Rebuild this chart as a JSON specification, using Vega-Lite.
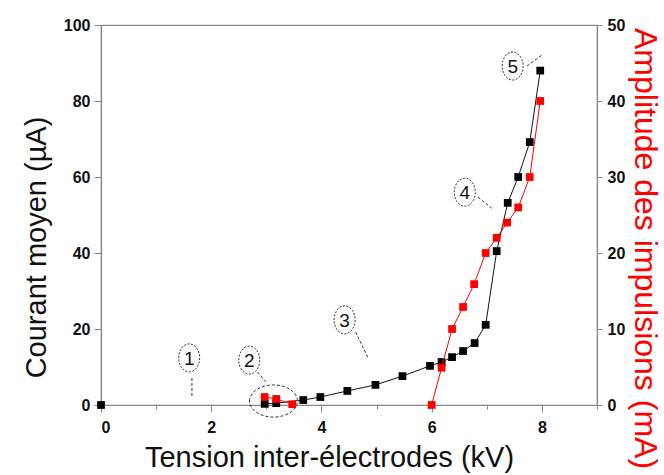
{
  "$schema": "https://vega.github.io/schema/vega-lite/v6.json",
  "width": 496,
  "height": 380,
  "autosize": {"type": "none"},
  "padding": {"left": 101, "top": 25, "right": 67, "bottom": 70},
  "background": "white",
  "config": {
    "font": "Liberation Sans",
    "view": {"stroke": "#888", "strokeWidth": 1.2},
    "axis": {
      "grid": false,
      "domainColor": "#888",
      "domainWidth": 1.2,
      "tickColor": "#888",
      "labelFont": "Liberation Sans",
      "labelFontSize": 16,
      "labelFontWeight": "bold",
      "labelColor": "#111",
      "titleFont": "Liberation Sans",
      "titleFontWeight": "normal",
      "titleFontSize": 29,
      "titleColor": "#111"
    },
    "axisRight": {"titleColor": "#ff0000", "titleFontSize": 32}
  },
  "datasets": {
    "courant": [
      {"v": 0, "I": 0, "groupe": "a"},
      {"v": 2.97, "I": 0.3, "groupe": "b"},
      {"v": 3.18, "I": 0.5, "groupe": "b"},
      {"v": 3.67, "I": 1.3, "groupe": "b"},
      {"v": 3.98, "I": 2.1, "groupe": "b"},
      {"v": 4.47, "I": 3.7, "groupe": "b"},
      {"v": 4.98, "I": 5.3, "groupe": "b"},
      {"v": 5.47, "I": 7.6, "groupe": "b"},
      {"v": 5.97, "I": 10.3, "groupe": "b"},
      {"v": 6.18, "I": 11.3, "groupe": "b"},
      {"v": 6.37, "I": 12.6, "groupe": "b"},
      {"v": 6.57, "I": 14.2, "groupe": "b"},
      {"v": 6.78, "I": 16.3, "groupe": "b"},
      {"v": 6.98, "I": 21.1, "groupe": "b"},
      {"v": 7.18, "I": 40.5, "groupe": "b"},
      {"v": 7.38, "I": 53.2, "groupe": "b"},
      {"v": 7.57, "I": 60, "groupe": "b"},
      {"v": 7.78, "I": 69.2, "groupe": "b"},
      {"v": 7.97, "I": 88, "groupe": "b"}
    ],
    "amplitude": [
      {"v": 2.97, "A": 1.05, "groupe": "a"},
      {"v": 3.18, "A": 0.8, "groupe": "a"},
      {"v": 3.47, "A": 0.1, "groupe": "a"},
      {"v": 6.0, "A": 0, "groupe": "b"},
      {"v": 6.18, "A": 4.9, "groupe": "b"},
      {"v": 6.37, "A": 10, "groupe": "b"},
      {"v": 6.57, "A": 12.9, "groupe": "b"},
      {"v": 6.77, "A": 15.9, "groupe": "b"},
      {"v": 6.98, "A": 20, "groupe": "b"},
      {"v": 7.18, "A": 22, "groupe": "b"},
      {"v": 7.37, "A": 24, "groupe": "b"},
      {"v": 7.57, "A": 26, "groupe": "b"},
      {"v": 7.78, "A": 30, "groupe": "b"},
      {"v": 7.97, "A": 40, "groupe": "b"}
    ],
    "etiquettes": [
      {"v": 1.6, "I": 12.4, "n": "1"},
      {"v": 2.69, "I": 11.8, "n": "2"},
      {"v": 4.42, "I": 22.4, "n": "3"},
      {"v": 6.6, "I": 56, "n": "4"},
      {"v": 7.47, "I": 89.2, "n": "5"}
    ],
    "fleches": [
      {"v": 1.65, "I": 7.1, "v2": 1.65, "I2": 1.8},
      {"v": 2.84, "I": 8.7, "v2": 3.0, "I2": 6},
      {"v": 4.62, "I": 19.2, "v2": 4.84, "I2": 12.6},
      {"v": 6.84, "I": 54.7, "v2": 7.09, "I2": 51.8},
      {"v": 7.73, "I": 89.2, "v2": 8.0, "I2": 92.1}
    ],
    "zone": [{"v": 3.13, "I": 1.05}]
  },
  "resolve": {"scale": {"y": "independent"}},
  "layer": [
    {
      "layer": [
        {
          "mark": {"type": "rule", "color": "#777", "strokeDash": [5, 3], "strokeWidth": 1},
          "encoding": {
            "x": {"datum": 6, "type": "quantitative", "scale": {"domain": [0, 9]}, "title": "Tension inter-électrodes (kV)"}
          }
        },
        {
          "data": {"name": "courant"},
          "mark": {"type": "line", "color": "#111", "strokeWidth": 1},
          "encoding": {
            "x": {"field": "v", "type": "quantitative", "scale": {"domain": [0, 9]}, "title": "Tension inter-électrodes (kV)",
              "axis": {"values": [0, 1, 2, 3, 4, 5, 6, 7, 8, 9], "format": "d", "labelExpr": "datum.value % 2 === 0 && datum.value < 9 ? datum.label : ''", "tickSize": {"condition": {"test": "datum.value % 2 !== 0", "value": 4}, "value": 7}, "labelPadding": 7, "titlePadding": 8, "titleX": 228}},
            "y": {"field": "I", "type": "quantitative", "scale": {"domain": [0, 100]}, "title": "Courant moyen (µA)",
              "axis": {"values": [0, 10, 20, 30, 40, 50, 60, 70, 80, 90, 100], "labelExpr": "datum.value % 20 === 0 ? datum.label : ''", "tickSize": {"condition": {"test": "datum.value % 20 !== 0", "value": 4}, "value": 7}, "labelPadding": 4, "titlePadding": 12, "titleY": 222}},
            "detail": {"field": "groupe"}
          }
        },
        {
          "data": {"name": "courant"},
          "mark": {"type": "point", "shape": "square", "filled": true, "color": "#000", "size": 60, "opacity": 1},
          "encoding": {
            "x": {"field": "v", "type": "quantitative", "title": "Tension inter-électrodes (kV)"},
            "y": {"field": "I", "type": "quantitative", "title": "Courant moyen (µA)"}
          }
        },
        {
          "data": {"name": "fleches"},
          "mark": {"type": "rule", "color": "#333", "strokeWidth": 1, "strokeDash": [3, 2]},
          "encoding": {
            "x": {"field": "v", "type": "quantitative", "title": "Tension inter-électrodes (kV)"},
            "y": {"field": "I", "type": "quantitative", "title": "Courant moyen (µA)"},
            "x2": {"field": "v2"},
            "y2": {"field": "I2"}
          }
        },
        {
          "data": {"name": "etiquettes"},
          "mark": {"type": "point", "shape": "M -0.75 0 A 0.75 1 0 1 1 0.75 0 A 0.75 1 0 1 1 -0.75 0 Z", "filled": false, "color": "#333", "size": 784, "strokeWidth": 1, "strokeDash": [2, 1.5], "opacity": 1},
          "encoding": {
            "x": {"field": "v", "type": "quantitative", "title": "Tension inter-électrodes (kV)"},
            "y": {"field": "I", "type": "quantitative", "title": "Courant moyen (µA)"}
          }
        },
        {
          "data": {"name": "etiquettes"},
          "mark": {"type": "text", "font": "Liberation Sans", "fontSize": 19, "color": "#111", "baseline": "middle", "align": "center", "dy": 1},
          "encoding": {
            "x": {"field": "v", "type": "quantitative", "title": "Tension inter-électrodes (kV)"},
            "y": {"field": "I", "type": "quantitative", "title": "Courant moyen (µA)"},
            "text": {"field": "n"}
          }
        },
        {
          "data": {"name": "zone"},
          "mark": {"type": "point", "shape": "M -1 0 A 1 0.67 0 1 1 1 0 A 1 0.67 0 1 1 -1 0 Z", "filled": false, "color": "#333", "size": 2304, "strokeWidth": 1, "strokeDash": [3, 2], "opacity": 1},
          "encoding": {
            "x": {"field": "v", "type": "quantitative", "title": "Tension inter-électrodes (kV)"},
            "y": {"field": "I", "type": "quantitative", "title": "Courant moyen (µA)"}
          }
        }
      ]
    },
    {
      "data": {"name": "amplitude"},
      "layer": [
        {
          "mark": {"type": "line", "color": "#ff0000", "strokeWidth": 1},
          "encoding": {
            "x": {"field": "v", "type": "quantitative", "title": "Tension inter-électrodes (kV)"},
            "y": {"field": "A", "type": "quantitative", "scale": {"domain": [0, 50]}, "title": "Amplitude des impulsions (mA)",
              "axis": {"orient": "right", "values": [0, 10, 20, 30, 40, 50], "tickSize": 5, "labelPadding": 5, "titlePadding": 3, "titleY": 223}},
            "detail": {"field": "groupe"}
          }
        },
        {
          "mark": {"type": "point", "shape": "square", "filled": true, "color": "#ff0000", "size": 60, "opacity": 1},
          "encoding": {
            "x": {"field": "v", "type": "quantitative", "title": "Tension inter-électrodes (kV)"},
            "y": {"field": "A", "type": "quantitative", "title": "Amplitude des impulsions (mA)"}
          }
        }
      ]
    }
  ]
}
